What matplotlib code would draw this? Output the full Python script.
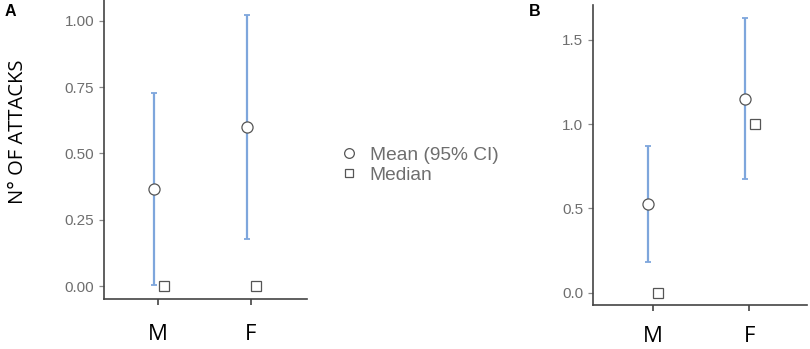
import matplotlib
matplotlib.use("Agg")
import matplotlib.pyplot as plt
from matplotlib.lines import Line2D

# datos
categorias = ["M", "F"]

media_a = [0.366, 0.600]
ic_bajo_a = [0.004, 0.176]
ic_alto_a = [0.726, 1.022]
mediana_a = [0.0, 0.0]
ticks_a = [0.00, 0.25, 0.50, 0.75, 1.00]
etiquetas_a = ["0.00", "0.25", "0.50", "0.75", "1.00"]

media_b = [0.528, 1.151]
ic_bajo_b = [0.184, 0.675]
ic_alto_b = [0.871, 1.630]
mediana_b = [0.0, 1.0]
ticks_b = [0.0, 0.5, 1.0, 1.5]
etiquetas_b = ["0.0", "0.5", "1.0", "1.5"]

azul = "#7ea6dc"
gris_borde = "#555555"
gris_texto = "#6e6e6e"

fig = plt.figure(figsize=(8.1, 3.49), dpi=100)


def panel(ax, media, bajo, alto, mediana, ticks, etiquetas, ylim, xlim, pad_x):
    x = list(range(len(categorias)))
    xm = [v - 0.045 for v in x]
    xd = [v + 0.058 for v in x]
    err = [[m - b for m, b in zip(media, bajo)], [a - m for m, a in zip(media, alto)]]
    ax.errorbar(xm, media, yerr=err, fmt="none", ecolor=azul, elinewidth=1.6,
                capsize=2, capthick=1.3, zorder=2)
    ax.plot(xm, media, "o", ms=8, mfc="white", mec=gris_borde, mew=0.9, zorder=3)
    ax.plot(xd, mediana, "s", ms=6.5, mfc="white", mec=gris_borde, mew=0.9, zorder=3)
    ax.set_xlim(*xlim)
    ax.set_ylim(*ylim)
    ax.set_xticks(x)
    ax.set_xticklabels(categorias, fontsize=16, family="Open Sans")
    ax.set_yticks(ticks)
    ax.set_yticklabels(etiquetas, fontsize=11, color=gris_texto, family="Liberation Sans")
    for lado in ["top", "right"]:
        ax.spines[lado].set_visible(False)
    for lado in ["left", "bottom"]:
        ax.spines[lado].set_color("#444444")
        ax.spines[lado].set_linewidth(1.2)
    ax.tick_params(axis="x", length=4, width=1.2, color="#444444", pad=pad_x)
    ax.tick_params(axis="y", length=3.5, width=0.9, color="#888888", pad=3.5)
    ax.set_facecolor("none")


ax1 = fig.add_axes([104 / 810, 50 / 349, 203 / 810, 299 / 349])
panel(ax1, media_a, ic_bajo_a, ic_alto_a, mediana_a, ticks_a, etiquetas_a,
      (-0.049, 1.078), (-0.587, 1.609), 14)

ax2 = fig.add_axes([593 / 810, 44 / 349, 214 / 810, 300 / 349])
panel(ax2, media_b, ic_bajo_b, ic_alto_b, mediana_b, ticks_b, etiquetas_b,
      (-0.073, 1.707), (-0.618, 1.598), 11)

fig.text(18 / 810, 1 - 132 / 349, "N° OF ATTACKS", rotation=90, ha="center", va="center",
         fontsize=14.5, family="Open Sans")
fig.text(5 / 810, 1 - 4 / 349, "A", ha="left", va="top", fontsize=11.5,
         fontweight="bold", family="Liberation Sans")
fig.text(529 / 810, 1 - 4 / 349, "B", ha="left", va="top", fontsize=11.5,
         fontweight="bold", family="Liberation Sans")

handles = [
    Line2D([], [], ls="none", marker="o", ms=7, mfc="white", mec=gris_borde, mew=0.9),
    Line2D([], [], ls="none", marker="s", ms=6, mfc="white", mec=gris_borde, mew=0.9),
]
fig.legend(handles, ["Mean (95% CI)", "Median"], loc="center left",
           bbox_to_anchor=(320 / 810, 1 - 165 / 349), frameon=False,
           prop={"family": "Liberation Sans", "size": 13.8}, labelcolor=gris_texto,
           handletextpad=0.5, labelspacing=0.15, handlelength=1.2)

plt.savefig("out.png", dpi=100)
plt.close()
